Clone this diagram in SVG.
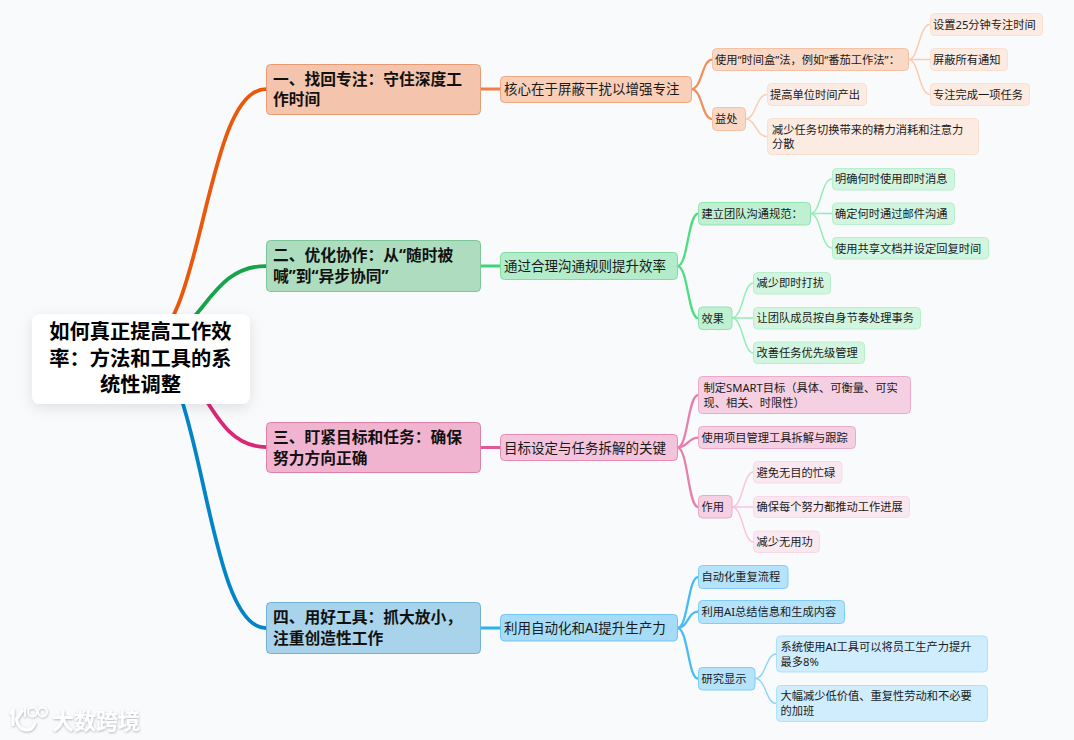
<svg xmlns="http://www.w3.org/2000/svg" width="1074" height="740" viewBox="0 0 1074 740">
<style>
text{font-family:"Noto Sans","Noto Sans CJK SC",sans-serif;fill:#1a1a1a}
.r{font-size:20.25px;font-weight:700;fill:#000;text-anchor:middle}
.a{font-size:15.75px;font-weight:700;fill:#111}
.b{font-size:13.5px}
.c{font-size:11.25px}
.edges path{fill:none;stroke-linecap:round}
.m{stroke-width:3.75}
.s{stroke-width:3}
.t{stroke-width:2.25}
.u{stroke-width:1.5}
.wm{font-size:22px;font-weight:700;fill:#fff}
.o1{fill:#f5c4ac;stroke:#e89a73}.o2{fill:#f9cfb8;stroke:#f3a67f}.o3{fill:#fad8c6;stroke:#f8c0a3}.o4{fill:#fcebe2;stroke:#fcdfcf}
.g1{fill:#aedcbe;stroke:#7cc597}.g2{fill:#b2eccb;stroke:#82dda4}.g3{fill:#bff0d2;stroke:#8fe5af}.g4{fill:#d2f5e0;stroke:#b8eecd}
.p1{fill:#f1b4d0;stroke:#dd80a8}.p2{fill:#f4c4dd;stroke:#e78bb5}.p3{fill:#f5d0e3;stroke:#ecaacb}.p4{fill:#fae8f0;stroke:#f9d8e7}
.b1{fill:#a9d3ea;stroke:#6fb2d8}.b2{fill:#a6dcf7;stroke:#70c5f0}.b3{fill:#b5e3fb;stroke:#80cef5}.b4{fill:#d0edfd;stroke:#aee1fa}
.eo0{stroke:#ea580c}.eo1{stroke:#f07f45}.eo2{stroke:#f28e5a}.eo3{stroke:#fdcbb0}
.eg0{stroke:#16a34a}.eg1{stroke:#3ed47a}.eg2{stroke:#4ade80}.eg3{stroke:#95ecb6}
.ep0{stroke:#db2777}.ep1{stroke:#e0589a}.ep2{stroke:#e87eae}.ep3{stroke:#f8c6dd}
.eb0{stroke:#0284c7}.eb1{stroke:#2bb0f0}.eb2{stroke:#45bcf5}.eb3{stroke:#8ed6fa}
</style>
<defs>
<filter id="sh" x="-20%" y="-30%" width="140%" height="170%"><feDropShadow dx="0" dy="4" stdDeviation="7" flood-color="#000" flood-opacity="0.1"/></filter>
<filter id="wm" x="-10%" y="-20%" width="120%" height="150%"><feDropShadow dx="0.5" dy="1" stdDeviation="1.2" flood-color="#888" flood-opacity="0.6"/></filter>
</defs>
<rect width="1074" height="740" fill="#f9fafc"/>
<g class="edges" id="connectors">
<path class="m eo0" d="M141 345C203.5 345 203.5 89 266 89"/>
<path class="m eg0" d="M141 345C203.5 345 203.5 266 266 266"/>
<path class="m ep0" d="M141 345C203.5 345 203.5 447 266 447"/>
<path class="m eb0" d="M141 345C203.5 345 203.5 628 266 628"/>
<path class="s eo1" d="M481 89H500"/>
<path class="s eg1" d="M481 266H500"/>
<path class="s ep1" d="M481 447.500H500"/>
<path class="s eb1" d="M481 628H500"/>
<path class="t eo2" d="M691.500 89C702 89 702 59.500 712 59.500"/>
<path class="t eo2" d="M691.500 89C702 89 702 119 712 119"/>
<path class="u eo3" d="M908.500 59.500C919 59.500 919 24.500 930 24.500"/>
<path class="u eo3" d="M908.500 59.500H930"/>
<path class="u eo3" d="M908.500 59.500C919 59.500 919 94.500 930 94.500"/>
<path class="u eo3" d="M745.500 119C756 119 756 94.500 767 94.500"/>
<path class="u eo3" d="M745.500 119C756 119 756 136.500 767 136.500"/>
<path class="t eg2" d="M677.500 266C688 266 688 213.500 698 213.500"/>
<path class="t eg2" d="M677.500 266C688 266 688 318 698 318"/>
<path class="u eg3" d="M810.500 213.500C821 213.500 821 179 832 179"/>
<path class="u eg3" d="M810.500 213.500H832"/>
<path class="u eg3" d="M810.500 213.500C821 213.500 821 248 832 248"/>
<path class="u eg3" d="M732 318C743 318 743 283 753.500 283"/>
<path class="u eg3" d="M732 318H753.500"/>
<path class="u eg3" d="M732 318C743 318 743 353 753.500 353"/>
<path class="t ep2" d="M677.500 447.500C688 447.500 688 395 698 395"/>
<path class="t ep2" d="M677.500 447.500C688 447.500 688 437.500 698 437.500"/>
<path class="t ep2" d="M677.500 447.500C688 447.500 688 507 698 507"/>
<path class="u ep3" d="M732 507C743 507 743 472 753.500 472"/>
<path class="u ep3" d="M732 507H753.500"/>
<path class="u ep3" d="M732 507C743 507 743 542 753.500 542"/>
<path class="t eb2" d="M677.500 628C688 628 688 577 698 577"/>
<path class="t eb2" d="M677.500 628C688 628 688 611.500 698 611.500"/>
<path class="t eb2" d="M677.500 628C688 628 688 678.500 698 678.500"/>
<path class="u eb3" d="M755 678.500C766 678.500 766 654 776 654"/>
<path class="u eb3" d="M755 678.500C766 678.500 766 703.500 776 703.500"/>
</g>

<g id="root"><rect x="32" y="314" width="218" height="90" rx="8" fill="#fff" filter="url(#sh)"/><text class="r" x="140.500" y="339">如何真正提高工作效</text><text class="r" x="140.500" y="366">率&#xFF1A;方法和工具的系</text><text class="r" x="140.500" y="392">统性调整</text></g>

<g id="n1"><rect class="o1" x="266.500" y="64.500" width="214" height="50" rx="4"/><text class="a" x="273" y="85">一、找回专注&#xFF1A;守住深度工</text><text class="a" x="273" y="105">作时间</text></g>
<g id="n1-1"><rect class="o2" x="500.500" y="76.500" width="191" height="26" rx="4"/><text class="b" x="504" y="94">核心在于屏蔽干扰以增强专注</text></g>
<g id="n1-1-1"><rect class="o3" x="712.500" y="48.500" width="196" height="22" rx="4"/><text class="c" x="715" y="63.500">使用“时间盒”法&#xFF0C;例如“番茄工作法”&#xFF1A;</text></g>
<g id="n1-1-1-1"><rect class="o4" x="930.500" y="13.500" width="112" height="22" rx="4"/><text class="c" x="933" y="28.500">设置25分钟专注时间</text></g>
<g id="n1-1-1-2"><rect class="o4" x="930.500" y="48.500" width="77" height="22" rx="4"/><text class="c" x="933" y="63.500">屏蔽所有通知</text></g>
<g id="n1-1-1-3"><rect class="o4" x="930.500" y="83.500" width="99" height="22" rx="4"/><text class="c" x="933" y="98.500">专注完成一项任务</text></g>
<g id="n1-1-2"><rect class="o3" x="712.500" y="107.500" width="33" height="23" rx="4"/><text class="c" x="715" y="123">益处</text></g>
<g id="n1-1-2-1"><rect class="o4" x="767.500" y="83.500" width="99" height="22" rx="4"/><text class="c" x="770" y="98.500">提高单位时间产出</text></g>
<g id="n1-1-2-2"><rect class="o4" x="767.500" y="118.500" width="211" height="36" rx="4"/><text class="c" x="772" y="133.500">减少任务切换带来的精力消耗和注意力</text><text class="c" x="772" y="148">分散</text></g>

<g id="n2"><rect class="g1" x="266.500" y="240.500" width="214" height="51" rx="4"/><text class="a" x="273" y="261">二、优化协作&#xFF1A;从“随时被</text><text class="a" x="273" y="282">喊”到“异步协同”</text></g>
<g id="n2-1"><rect class="g2" x="500.500" y="252.500" width="177" height="27" rx="4"/><text class="b" x="504" y="270.500">通过合理沟通规则提升效率</text></g>
<g id="n2-1-1"><rect class="g3" x="698.500" y="202.500" width="112" height="22.500" rx="4"/><text class="c" x="701.500" y="217.500">建立团队沟通规范&#xFF1A;</text></g>
<g id="n2-1-1-1"><rect class="g4" x="832.500" y="168.500" width="122" height="21.500" rx="4"/><text class="c" x="835" y="183">明确何时使用即时消息</text></g>
<g id="n2-1-1-2"><rect class="g4" x="832.500" y="203" width="122" height="21.500" rx="4"/><text class="c" x="835" y="217.500">确定何时通过邮件沟通</text></g>
<g id="n2-1-1-3"><rect class="g4" x="832.500" y="237.500" width="156" height="21.500" rx="4"/><text class="c" x="835" y="252.500">使用共享文档并设定回复时间</text></g>
<g id="n2-1-2"><rect class="g3" x="698.500" y="307" width="33.500" height="22.500" rx="4"/><text class="c" x="701.500" y="322.500">效果</text></g>
<g id="n2-1-2-1"><rect class="g4" x="753.500" y="272.500" width="77" height="21.500" rx="4"/><text class="c" x="756.500" y="287">减少即时打扰</text></g>
<g id="n2-1-2-2"><rect class="g4" x="753.500" y="307.500" width="167" height="21.500" rx="4"/><text class="c" x="756.500" y="322">让团队成员按自身节奏处理事务</text></g>
<g id="n2-1-2-3"><rect class="g4" x="753.500" y="342" width="111" height="21.500" rx="4"/><text class="c" x="756.500" y="357">改善任务优先级管理</text></g>

<g id="n3"><rect class="p1" x="266.500" y="422.500" width="214" height="50" rx="4"/><text class="a" x="273" y="442.500">三、盯紧目标和任务&#xFF1A;确保</text><text class="a" x="273" y="464">努力方向正确</text></g>
<g id="n3-1"><rect class="p2" x="500.500" y="434.500" width="177" height="26" rx="4"/><text class="b" x="504" y="452.500">目标设定与任务拆解的关键</text></g>
<g id="n3-1-1"><rect class="p3" x="698.500" y="376.500" width="212" height="37" rx="4"/><text class="c" x="703.500" y="391.500">制定SMART目标&#xFF08;具体、可衡量、可实</text><text class="c" x="703.500" y="406.500">现、相关、时限性&#xFF09;</text></g>
<g id="n3-1-2"><rect class="p3" x="698.500" y="426.500" width="157" height="22" rx="4"/><text class="c" x="701.500" y="441.500">使用项目管理工具拆解与跟踪</text></g>
<g id="n3-1-3"><rect class="p3" x="698.500" y="495.500" width="33.500" height="22.500" rx="4"/><text class="c" x="701.500" y="510.500">作用</text></g>
<g id="n3-1-3-1"><rect class="p4" x="753.500" y="461.500" width="88.500" height="21.500" rx="4"/><text class="c" x="756.500" y="476.500">避免无目的忙碌</text></g>
<g id="n3-1-3-2"><rect class="p4" x="753.500" y="496.500" width="156" height="21" rx="4"/><text class="c" x="756.500" y="511">确保每个努力都推动工作进展</text></g>
<g id="n3-1-3-3"><rect class="p4" x="753.500" y="531" width="66" height="21.500" rx="4"/><text class="c" x="756.500" y="546">减少无用功</text></g>

<g id="n4"><rect class="b1" x="266.500" y="602.500" width="214" height="51" rx="4"/><text class="a" x="273" y="623">四、用好工具&#xFF1A;抓大放小&#xFF0C;</text><text class="a" x="273" y="643.500">注重创造性工作</text></g>
<g id="n4-1"><rect class="b2" x="500.500" y="614.500" width="177" height="26.500" rx="4"/><text class="b" x="504" y="632.500">利用自动化和AI提升生产力</text></g>
<g id="n4-1-1"><rect class="b3" x="698.500" y="565.500" width="89.500" height="23" rx="4"/><text class="c" x="701.500" y="581">自动化重复流程</text></g>
<g id="n4-1-2"><rect class="b3" x="698.500" y="600.500" width="146" height="23" rx="4"/><text class="c" x="701.500" y="615.500">利用AI总结信息和生成内容</text></g>
<g id="n4-1-3"><rect class="b3" x="698.500" y="667.500" width="56.500" height="22.500" rx="4"/><text class="c" x="701.500" y="682.500">研究显示</text></g>
<g id="n4-1-3-1"><rect class="b4" x="776.500" y="636" width="211" height="36" rx="4"/><text class="c" x="780.500" y="650.500">系统使用AI工具可以将员工生产力提升</text><text class="c" x="780.500" y="665.500">最多8%</text></g>
<g id="n4-1-3-2"><rect class="b4" x="776.500" y="685.500" width="211" height="36" rx="4"/><text class="c" x="780.500" y="700">大幅减少低价值、重复性劳动和不必要</text><text class="c" x="780.500" y="714.500">的加班</text></g>

<g id="watermark" filter="url(#wm)">
<path d="M10 714L13 711V726" fill="none" stroke="#fff" stroke-width="3"/>
<path d="M23 710L16.500 719C17 726 22 730 27 730C31 730 34 727 35 722" fill="none" stroke="#fff" stroke-width="3"/>
<path d="M25 708V717" fill="none" stroke="#fff" stroke-width="1.800"/>
<circle cx="32.500" cy="712" r="4.500" fill="none" stroke="#fff" stroke-width="1.800"/>
<circle cx="42.500" cy="712" r="4.500" fill="none" stroke="#fff" stroke-width="1.800"/>
<text class="wm" x="52" y="729">大数跨境</text>
</g>
</svg>
